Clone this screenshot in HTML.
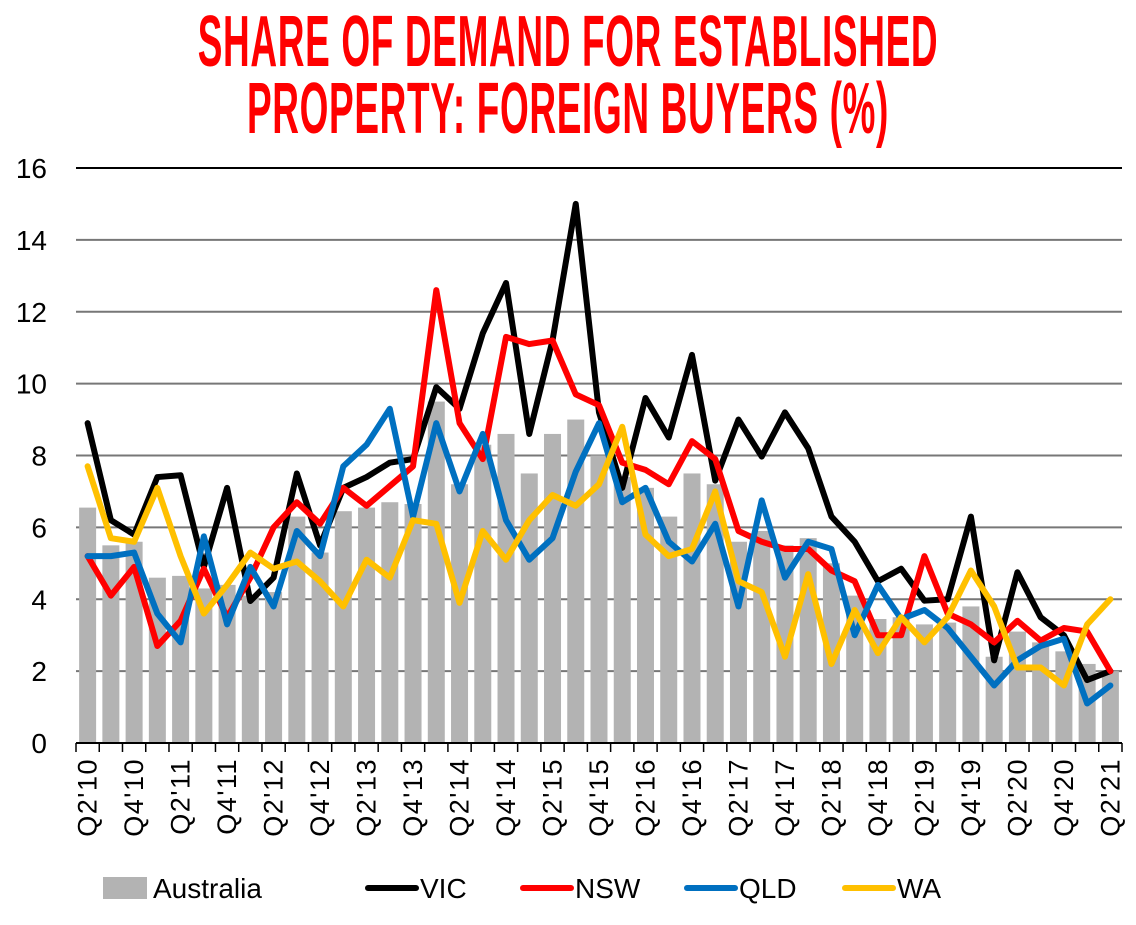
<!DOCTYPE html>
<html><head><meta charset="utf-8"><style>
body{margin:0;background:#fff;width:1136px;height:925px;overflow:hidden;font-family:"Liberation Sans",sans-serif}
.t{position:absolute;left:0;width:1136px;text-align:center;color:#ff0000;font-family:"Liberation Sans Narrow","Liberation Sans",sans-serif;font-weight:bold;font-size:56px;transform:scale(0.66,1.3);letter-spacing:1px}
</style></head><body>
<div class="t" style="top:8px">SHARE OF DEMAND FOR ESTABLISHED</div>
<div class="t" style="top:75px">PROPERTY: FOREIGN BUYERS (%)</div>
<svg id="c" width="1136" height="925" style="position:absolute;left:0;top:0"></svg>
<script>
const categories=[];for(let y=10;y<=21;y++)for(let q=1;q<=4;q++){if((y==10&&q<2)||(y==21&&q>2))continue;categories.push('Q'+q+"'"+y);}
const australia=[6.55,5.5,5.6,4.6,4.65,4.3,4.4,4.1,4.2,6.3,5.3,6.45,6.55,6.7,6.65,9.5,7.2,8.3,8.6,7.5,8.6,9.0,8.0,7.4,7.1,6.3,7.5,7.2,5.6,5.9,5.5,5.7,5.0,4.1,3.45,3.5,3.3,3.35,3.8,2.4,3.1,2.8,2.55,2.2,2.0];
const vic=[8.9,6.2,5.8,7.4,7.45,4.9,7.1,3.95,4.6,7.5,5.5,7.1,7.4,7.8,7.9,9.9,9.3,11.4,12.8,8.6,11.2,15.0,9.2,7.1,9.6,8.5,10.8,7.3,9.0,7.97,9.2,8.2,6.3,5.6,4.5,4.85,3.96,4.0,6.3,2.3,4.75,3.5,3.0,1.75,2.0];
const nsw=[5.2,4.1,4.9,2.7,3.4,4.85,3.5,4.6,6.0,6.7,6.1,7.1,6.6,7.15,7.7,12.6,8.9,7.9,11.3,11.1,11.2,9.7,9.4,7.8,7.6,7.2,8.4,7.9,5.9,5.6,5.4,5.4,4.8,4.5,3.0,3.0,5.2,3.6,3.3,2.8,3.4,2.85,3.2,3.1,2.0];
const qld=[5.2,5.2,5.3,3.6,2.8,5.75,3.3,4.9,3.8,5.9,5.2,7.7,8.3,9.3,6.3,8.9,7.0,8.6,6.2,5.1,5.7,7.55,8.9,6.7,7.1,5.6,5.05,6.1,3.8,6.75,4.6,5.6,5.4,3.0,4.4,3.45,3.7,3.2,2.4,1.6,2.3,2.7,2.9,1.1,1.6];
const wa=[7.7,5.7,5.6,7.1,5.2,3.6,4.4,5.3,4.85,5.05,4.5,3.8,5.1,4.6,6.2,6.1,3.9,5.9,5.1,6.2,6.9,6.6,7.2,8.8,5.8,5.2,5.4,7.0,4.5,4.2,2.4,4.7,2.2,3.7,2.5,3.5,2.8,3.5,4.8,3.8,2.1,2.1,1.6,3.3,4.0];
const yTicks=[0,2,4,6,8,10,12,14,16];
const NS='http://www.w3.org/2000/svg',svg=document.getElementById('c');
const L=76,R=1122,T=168,B=743,step=(R-L)/categories.length;
const X=i=>L+step*(i+0.5),Y=v=>B-(v/16)*(B-T);
function el(t,a,p){const e=document.createElementNS(NS,t);for(const k in a)e.setAttribute(k,a[k]);(p||svg).appendChild(e);return e;}
yTicks.forEach(v=>{
 const g=el('line',{x1:L,x2:R,y1:Y(v),y2:Y(v),stroke:v==16||v==0?'#000':'#777','stroke-width':2});
 
 
 const t=el('text',{x:47,y:Y(v)+10,'text-anchor':'end','font-size':28,fill:'#000'});t.textContent=v;
 
 
});
australia.forEach((v,i)=>{
 const r=el('rect',{x:X(i)-8.5,y:Y(v),width:17,height:B-Y(v),fill:'#b3b3b3'});
 
 
});
el('line',{x1:L,x2:R,y1:B,y2:B,stroke:'#000','stroke-width':2});
for(let i=0;i<=categories.length;i++){el('line',{x1:L+step*i,x2:L+step*i,y1:B,y2:B+9,stroke:'#000','stroke-width':1.5});}
categories.forEach((c,i)=>{if(i%2)return;
 const t=el('text',{x:0,y:0,'text-anchor':'end','font-size':27,'letter-spacing':1.5,fill:'#000',transform:`translate(${X(i)+9},758) rotate(-90)`});t.textContent=c;
 
 
});
[[vic,'#000','vic'],[nsw,'#ff0000','nsw'],[qld,'#0070c0','qld'],[wa,'#ffc000','wa']].forEach(([d,c,n])=>{
 const p=el('polyline',{points:d.map((v,i)=>X(i)+','+Y(v)).join(' '),fill:'none',stroke:c,'stroke-width':6,'stroke-linejoin':'round','stroke-linecap':'round'});
 
 
});
const leg=[['Australia',null,103],['VIC','#000',368],['NSW','#ff0000',523],['QLD','#0070c0',687],['WA','#ffc000',845]];
leg.forEach(([n,c,x])=>{
 let m;
 if(!c)m=el('rect',{x:x,y:877,width:44,height:22,fill:'#b3b3b3'});
 else m=el('line',{x1:x,x2:x+48,y1:888,y2:888,stroke:c,'stroke-width':6,'stroke-linecap':'round'});
 
 
 const t=el('text',{x:x+(c?52:50),y:898,'font-size':28,fill:'#000'});t.textContent=n;
 
 
});
</script>
</body></html>
